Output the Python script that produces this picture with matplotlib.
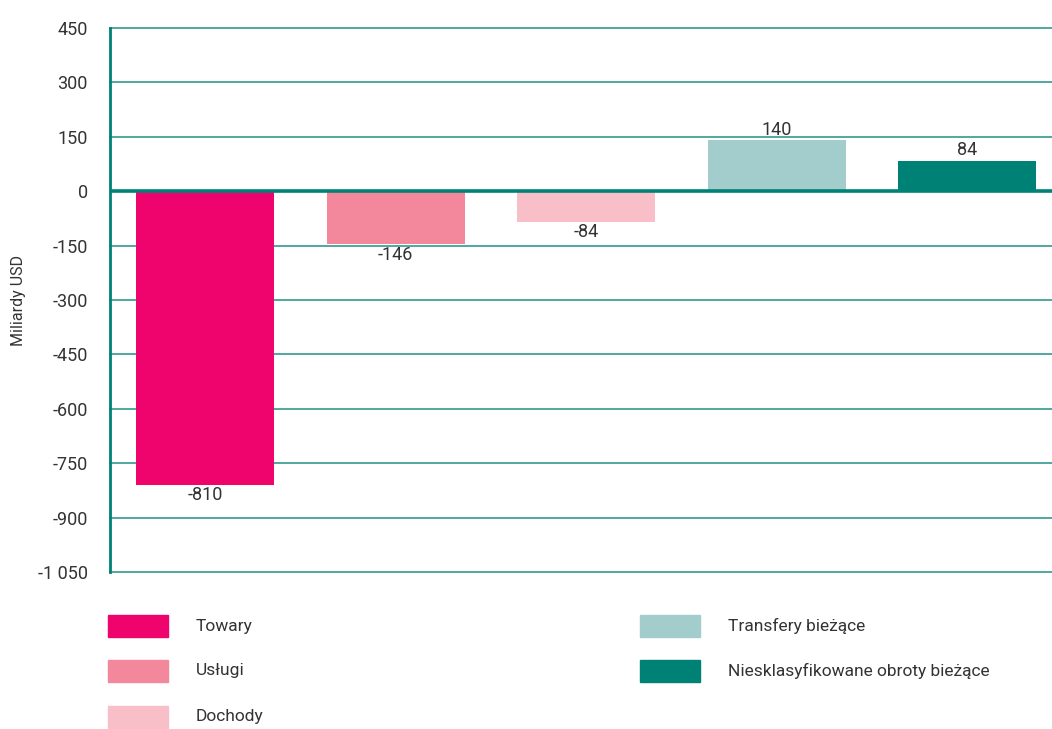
import numpy as np
import matplotlib
matplotlib.use("Agg")
from matplotlib import pyplot as plt
from matplotlib.patches import Rectangle

plt.rcParams['font.family'] = ['Roboto', 'DejaVu Sans']

categories = ["Towary", "Usługi", "Dochody", "Transfery bieżące", "Niesklasyfikowane obroty bieżące"]
values = [-810, -146, -84, 140, 84]
colors = ["#EE046C", "#F3889C", "#F9BFC8", "#A3CDCC", "#008176"]
y_ticks = [450, 300, 150, 0, -150, -300, -450, -600, -750, -900, -1050]

TEXT = "#333333"
TEAL = "#008176"
GRID = "#4FA89F"


def fmt(v):
    s = f"{abs(v):,}".replace(",", " ")
    return ("-" if v < 0 else "") + s


def main():
    fig = plt.figure(figsize=(10.52, 7.29), dpi=100)
    ax = fig.add_axes([110 / 1052, 1 - 572 / 729, 942 / 1052, 544 / 729])

    x = np.arange(len(values))
    ax.bar(x, values, width=0.724, color=colors, zorder=3)

    for xi, v in zip(x, values):
        if v >= 0:
            ax.annotate(str(v), (xi, v), xytext=(0, 1), textcoords="offset points",
                        ha="center", va="bottom", fontsize=13, color=TEXT)
        else:
            ax.annotate(fmt(v), (xi, v), xytext=(0, -1), textcoords="offset points",
                        ha="center", va="top", fontsize=13, color=TEXT)

    ax.set_xlim(-0.5, 4.445)
    ax.set_ylim(-1050, 450)
    ax.set_yticks(y_ticks)
    ax.set_yticklabels([fmt(t) for t in y_ticks])
    ax.set_xticks([])
    ax.tick_params(axis="y", length=0, pad=16, labelsize=13, labelcolor=TEXT)

    for t in y_ticks:
        if t == 0:
            continue
        ax.axhline(t, color=GRID, lw=1.4, zorder=1, clip_on=False)
    ax.axhline(0, color=TEAL, lw=2.6, zorder=4)

    for s in ["top", "right", "bottom"]:
        ax.spines[s].set_visible(False)
    ax.spines["left"].set_color(TEAL)
    ax.spines["left"].set_linewidth(2)

    ax.set_ylabel("Miliardy USD", fontsize=11.5, color=TEXT)
    ax.yaxis.set_label_coords(-0.089, 0.5)

    # legend in two columns
    W, H = 1052, 729
    slots = [(108, 626), (108, 671), (108, 717), (640, 626), (640, 671)]
    for (lx, ly), lab, c in zip(slots, categories, colors):
        fig.add_artist(Rectangle((lx / W, 1 - (ly + 11) / H), 60 / W, 22 / H,
                                 transform=fig.transFigure, color=c))
        fig.text((lx + 88) / W, 1 - ly / H, lab, ha="left", va="center",
                 fontsize=12.5, color=TEXT)

    fig.savefig("out.png", dpi=100)


main()
